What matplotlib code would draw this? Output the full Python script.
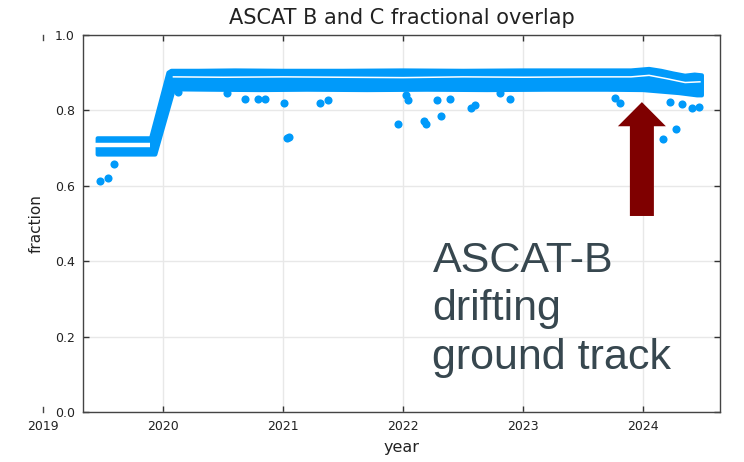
import matplotlib
matplotlib.use('Agg')
import matplotlib.pyplot as plt
from matplotlib.patches import FancyArrow
import numpy as np

# outline of the dense band of daily points (upper edge, lower edge)
top_year = [2019.455, 2019.60, 2019.75, 2019.90, 2020.045, 2020.07, 2020.3, 2020.6, 2021.0,
            2021.5, 2022.0, 2022.5, 2023.0, 2023.5, 2023.9, 2024.05, 2024.15, 2024.25,
            2024.35, 2024.43, 2024.49]
top_val = [0.726, 0.726, 0.726, 0.726, 0.900, 0.905, 0.905, 0.906, 0.905,
           0.905, 0.906, 0.905, 0.906, 0.906, 0.906, 0.910, 0.905, 0.898,
           0.892, 0.895, 0.893]
bot_year = [2019.455, 2019.70, 2019.935, 2020.09, 2020.4, 2020.8, 2021.2, 2021.7, 2022.2,
            2022.7, 2023.2, 2023.7, 2024.0, 2024.15, 2024.3, 2024.45, 2024.49]
bot_val = [0.683, 0.683, 0.683, 0.856, 0.855, 0.854, 0.855, 0.854, 0.855,
           0.854, 0.855, 0.855, 0.854, 0.850, 0.846, 0.840, 0.840]

# thin white gap between the two tracks
gap1_year = [2019.43, 2019.895]
gap1_val = [0.707, 0.707]
gap2_year = [2020.08, 2020.5, 2021.0, 2021.5, 2022.0, 2022.5, 2023.0, 2023.5, 2023.9,
             2024.05, 2024.2, 2024.35, 2024.48]
gap2_val = [0.889, 0.888, 0.889, 0.888, 0.887, 0.889, 0.888, 0.889, 0.889,
            0.893, 0.884, 0.874, 0.876]

# scattered low points
out_year = [2019.475, 2019.54, 2019.59, 2020.125, 2020.53, 2020.68, 2020.79, 2020.85,
            2021.01, 2021.03, 2021.05, 2021.31, 2021.375, 2021.96, 2022.025, 2022.04,
            2022.175, 2022.19, 2022.28, 2022.32, 2022.39, 2022.57, 2022.60, 2022.81,
            2022.89, 2023.77, 2023.81, 2024.17, 2024.225, 2024.275, 2024.325, 2024.41,
            2024.47]
out_val = [0.613, 0.621, 0.658, 0.849, 0.846, 0.830, 0.830, 0.830,
           0.820, 0.727, 0.729, 0.820, 0.828, 0.764, 0.841, 0.828,
           0.772, 0.764, 0.828, 0.785, 0.830, 0.806, 0.814, 0.846,
           0.830, 0.833, 0.820, 0.724, 0.822, 0.751, 0.817, 0.806,
           0.809]

xticks = [2020, 2021, 2022, 2023, 2024]
yticks = [0.0, 0.2, 0.4, 0.6, 0.8, 1.0]

blue = '#009afa'

fig = plt.figure(figsize=(7.44, 4.62), dpi=100)
ax = fig.add_axes([0.1116, 0.1082, 0.856, 0.816])

# band envelope
px = top_year + bot_year[::-1]
py = top_val + bot_val[::-1]
ax.fill(px, py, color=blue, lw=3, joinstyle='round', zorder=3)
ax.plot(gap1_year, gap1_val, color='white', lw=3.2, solid_capstyle='butt', zorder=4)
ax.plot(gap2_year, gap2_val, color='white', lw=1.1, solid_capstyle='butt', zorder=4)
ax.scatter(out_year, out_val, s=34, color=blue, lw=0, zorder=3)

ax.set_xlim(2019.333, 2024.64)
ax.set_ylim(0, 1)
ax.set_xticks(xticks)
ax.set_xticklabels([str(t) for t in xticks])
ax.set_yticks(yticks)
ax.set_yticklabels(['%.1f' % t for t in yticks])
ax.tick_params(direction='in', length=4, width=1, top=True, right=True,
               labelsize=9, colors='#333333', labelcolor='#222222', pad=6)
ax.grid(True, color='#e8e8e8', lw=1)
ax.set_axisbelow(True)
for s in ax.spines.values():
    s.set_color('#444444')
    s.set_linewidth(1)

# 2019 tick sits left of the frame
ax.text(2019, -0.02, '2019', ha='center', va='top', fontsize=9, color='#222222', clip_on=False)
ax.plot([2019, 2019], [0, 0.012], color='#444444', lw=1, clip_on=False)
ax.plot([2019, 2019], [0.988, 1.0], color='#444444', lw=1, clip_on=False)

ax.set_title('ASCAT B and C fractional overlap', fontsize=15, color='#222222', pad=8)
ax.set_xlabel('year', fontsize=11.5, color='#222222', labelpad=5)
ax.set_ylabel('fraction', fontsize=11, color='#222222', labelpad=8)

ax.add_patch(FancyArrow(2023.99, 0.52, 0, 0.302, width=0.2, head_width=0.4,
                        head_length=0.064, length_includes_head=True,
                        color='#7f0000', lw=0, zorder=5))
ax.text(2022.245, 0.114, 'ASCAT-B\ndrifting\nground track', fontsize=31,
        family='Liberation Sans', color='#37474f', va='baseline', ha='left',
        linespacing=1.28, zorder=6)

fig.savefig('out.png', dpi=100)
